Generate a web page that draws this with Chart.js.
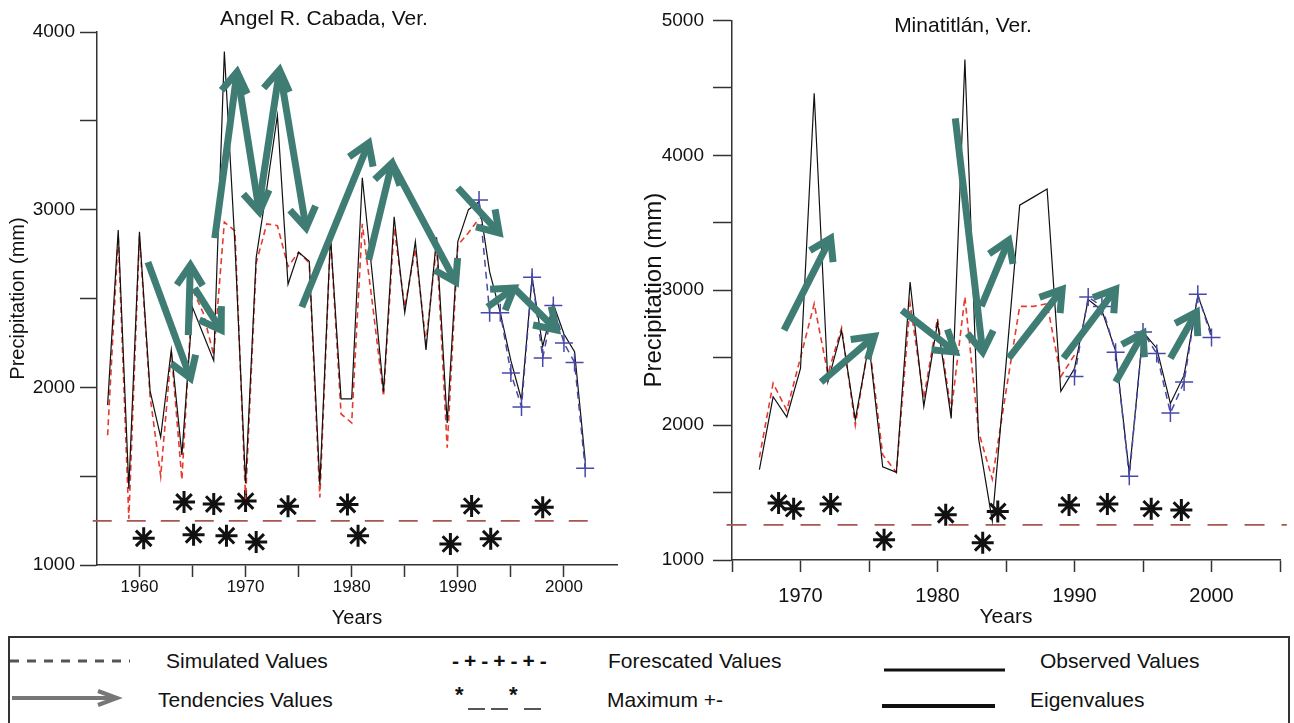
<!DOCTYPE html>
<html lang="en">
<head>
<meta charset="UTF-8">
<title>Precipitation tendencies</title>
<script src="https://cdn.jsdelivr.net/npm/chart.js"></script>
<style>
  body { margin: 0; background: #fff; font-family: "Liberation Sans", Arial, sans-serif; }
  #page { position: relative; width: 1294px; height: 723px; overflow: hidden; background: #fff; }
  .plot { position: absolute; top: 0; }
  .title { position: absolute; font-size: 21px; line-height: 1; color: #111; white-space: nowrap; transform: translateX(-50%); }
  #legendBox { position: absolute; left: 8px; top: 636px; width: 1282px; height: 100px; border: 2px solid #333; box-sizing: border-box; }
  .lg { position: absolute; font-size: 21px; line-height: 1; color: #111; white-space: nowrap; }
  .mark { position: absolute; font-weight: bold; color: #111; white-space: nowrap; line-height: 1; }
</style>
</head>
<body>
<div id="page">
  <canvas id="leftChart" class="plot" style="left:0" width="640" height="630"></canvas>
  <canvas id="rightChart" class="plot" style="left:640px" width="654" height="630"></canvas>

  <div class="title" style="left:324px; top:7px">Angel R. Cabada, Ver.</div>
  <div class="title" style="left:963px; top:14px">Minatitlán, Ver.</div>

  <div id="legendBox"></div>
  <svg style="position:absolute; left:0; top:630px" width="1294" height="93">
    <line x1="10" y1="31" x2="130" y2="31" stroke="#555" stroke-width="3" stroke-dasharray="9 8"/>
    <line x1="884" y1="40" x2="1005" y2="40" stroke="#111" stroke-width="3"/>
    <line x1="12" y1="68" x2="114" y2="68" stroke="#777" stroke-width="4"/>
    <polyline points="98,61 117,68 98,75" fill="none" stroke="#777" stroke-width="4"/>
    <line x1="882" y1="76" x2="995" y2="76" stroke="#111" stroke-width="4"/>
    <line x1="468" y1="79" x2="485" y2="79" stroke="#555" stroke-width="2"/>
    <line x1="491" y1="79" x2="508" y2="79" stroke="#555" stroke-width="2"/>
    <line x1="524" y1="79" x2="541" y2="79" stroke="#555" stroke-width="2"/>
  </svg>
  <div class="lg" style="left:166px; top:650px">Simulated Values</div>
  <div class="mark" style="left:452px; top:650px; font-size:21px; letter-spacing:5px">-+-+-+-</div>
  <div class="lg" style="left:608px; top:650px">Forescated Values</div>
  <div class="lg" style="left:1040px; top:650px">Observed Values</div>
  <div class="lg" style="left:158px; top:689px">Tendencies Values</div>
  <div class="mark" style="left:455px; top:684px; font-size:22px">*</div>
  <div class="mark" style="left:509px; top:684px; font-size:22px">*</div>
  <div class="lg" style="left:607px; top:689px">Maximum +-</div>
  <div class="lg" style="left:1030px; top:689px">Eigenvalues</div>
</div>

<script>
// ---- Angel R. Cabada, Ver. ----
const leftYears = [1957, 1958, 1959, 1960, 1961, 1962, 1963, 1964, 1965, 1966, 1967, 1968, 1969, 1970, 1971, 1972,
  1973, 1974, 1975, 1976, 1977, 1978, 1979, 1980, 1981, 1982, 1983, 1984, 1985, 1986, 1987, 1988, 1989, 1990,
  1991, 1992, 1993, 1994, 1995, 1996, 1997, 1998, 1999, 2000, 2001, 2002];
const leftObserved = [1900, 2885, 1430, 2875, 1980, 1720, 2210, 1620, 2450, 2300, 2150, 3890, 2800, 1460, 2730, 3120,
  3530, 2580, 2760, 2710, 1450, 2850, 1935, 1935, 3180, 2600, 1975, 2960, 2420, 2820, 2210, 2845, 1800, 2820,
  3000, 3045, 2650, 2420, 2150, 1930, 2620, 2230, 2470, 2300, 2200, 1590];
// simulated runs 1957-1992
const leftSimulated = [1730, 2850, 1260, 2850, 1950, 1500, 2200, 1480, 2550, 2420, 2180, 2930, 2880, 1370, 2700, 2920,
  2910, 2680, 2760, 2700, 1380, 2850, 1850, 1800, 2920, 2450, 1950, 2900, 2450, 2780, 2250, 2800, 1660, 2800,
  2870, 2950];
const leftForecastYears = [1992, 1993, 1994, 1995, 1996, 1997, 1998, 1999, 2000, 2001, 2002];
const leftForecast = [3054, 2420, 2420, 2080, 1890, 2620, 2165, 2460, 2250, 2140, 1545];
const leftMaxYears = [1960.4, 1964.2, 1965.1, 1967.0, 1968.2, 1970.0, 1971.0, 1974.0, 1979.6, 1980.6, 1989.3, 1991.3, 1993.1, 1998.0];
const leftMaxValues = [1150, 1355, 1170, 1343, 1165, 1360, 1130, 1330, 1340, 1165, 1118, 1332, 1148, 1325];
const leftThreshold = 1248;
// tendencies: [x0, y0, x1, y1], head at the second point
const leftArrows = [
  [1960.8, 2705, 1964.8, 2052],
  [1964.6, 2294, 1964.8, 2688],
  [1965.2, 2559, 1967.7, 2322],
  [1967.1, 2840, 1969.2, 3775],
  [1969.2, 3775, 1971.3, 2987],
  [1971.2, 2998, 1973.2, 3786],
  [1973.3, 3758, 1975.7, 2897],
  [1975.3, 2452, 1981.6, 3375],
  [1981.6, 2717, 1983.8, 3263],
  [1983.8, 3263, 1989.8, 2593],
  [1990.0, 3122, 1993.9, 2869],
  [1992.8, 2452, 1995.3, 2559],
  [1995.3, 2559, 1999.3, 2323]
];
const leftTickYears = [1960, 1965, 1970, 1975, 1980, 1985, 1990, 1995, 2000];

// ---- Minatitlán, Ver. ----
const rightYears = [1967, 1968, 1969, 1970, 1971, 1972, 1973, 1974, 1975, 1976, 1977, 1978, 1979, 1980, 1981, 1982,
  1983, 1984, 1985, 1986, 1987, 1988, 1989, 1990, 1991, 1992, 1993, 1994, 1995, 1996, 1997, 1998, 1999, 2000];
const rightObserved = [1670, 2210, 2060, 2420, 4460, 2320, 2700, 2040, 2600, 1690, 1650, 3060, 2140, 2760, 2050, 4710,
  1900, 1290, 2450, 3630, 3690, 3750, 2250, 2420, 2930, 2850, 2550, 1640, 2690, 2570, 2160, 2370, 2960, 2680];
// simulated runs 1967-1990
const rightSimulated = [1760, 2310, 2110, 2500, 2900, 2380, 2720, 2000, 2620, 1780, 1650, 2900, 2200, 2790, 2100, 2950,
  1950, 1600, 2250, 2880, 2880, 2900, 2360, 2520];
const rightForecastYears = [1990, 1991, 1992, 1993, 1994, 1995, 1996, 1997, 1998, 1999, 2000];
const rightForecast = [2360, 2950, 2880, 2540, 1620, 2690, 2530, 2090, 2320, 2970, 2650];
const rightMaxYears = [1968.4, 1969.5, 1972.2, 1976.1, 1980.6, 1983.3, 1984.4, 1989.6, 1992.4, 1995.6, 1997.8];
const rightMaxValues = [1423, 1380, 1415, 1150, 1335, 1127, 1360, 1408, 1415, 1380, 1370];
const rightThreshold = 1260;
const rightArrows = [
  [1968.8, 2704, 1972.2, 3385],
  [1971.5, 2319, 1975.4, 2659],
  [1977.4, 2852, 1981.3, 2541],
  [1981.3, 4274, 1983.3, 2541],
  [1983.2, 2881, 1985.2, 3370],
  [1985.2, 2496, 1989.1, 3007],
  [1989.2, 2496, 1993.0, 3007],
  [1993.0, 2319, 1995.0, 2681],
  [1997.0, 2496, 1998.9, 2837]
];
const rightTickYears = [1965, 1970, 1975, 1980, 1985, 1990, 1995, 2000, 2005];

const teal = '#3f7c74';
const axisColor = '#333';

Chart.defaults.font.family = '"Liberation Sans", Arial, sans-serif';
Chart.defaults.color = '#111';

const arrowHeads = {
  id: 'arrowHeads',
  afterDatasetsDraw(chart) {
    const ctx = chart.ctx;
    chart.data.datasets.forEach((ds, i) => {
      if (!ds.arrow) return;
      const pts = chart.getDatasetMeta(i).data;
      const a = pts[0], b = pts[1];
      const ang = Math.atan2(b.y - a.y, b.x - a.x);
      const len = 24, spread = Math.PI / 5.5;
      ctx.save();
      ctx.strokeStyle = ds.borderColor;
      ctx.lineWidth = ds.borderWidth;
      ctx.lineJoin = 'miter';
      ctx.beginPath();
      ctx.moveTo(b.x - len * Math.cos(ang - spread), b.y - len * Math.sin(ang - spread));
      ctx.lineTo(b.x, b.y);
      ctx.lineTo(b.x - len * Math.cos(ang + spread), b.y - len * Math.sin(ang + spread));
      ctx.stroke();
      ctx.restore();
    });
  }
};

function pairs(xs, ys) {
  return ys.map((v, i) => ({ x: xs[i], y: v }));
}

function buildDatasets(p) {
  const sets = [];
  p.arrows.forEach(a => sets.push({
    data: [{ x: a[0], y: a[1] }, { x: a[2], y: a[3] }],
    borderColor: teal, borderWidth: 7, pointRadius: 0, arrow: true, order: 0, clip: false
  }));
  sets.push({
    label: 'Forescated Values', data: pairs(p.fYears, p.forecast),
    borderColor: '#4848a8', borderWidth: 1.5, borderDash: [7, 5],
    pointStyle: 'cross', pointRadius: 9, pointBorderWidth: 1.5, pointBorderColor: '#4848a8', order: 1
  });
  sets.push({
    label: 'Observed Values', data: pairs(p.years, p.observed),
    borderColor: '#111', borderWidth: 1.2, pointRadius: 0, order: 2
  });
  sets.push({
    label: 'Simulated Values', data: pairs(p.years, p.simulated),
    borderColor: '#e8392e', borderWidth: 1.6, borderDash: [6, 4], pointRadius: 0, order: 3
  });
  sets.push({
    label: 'Maximum +-', data: pairs(p.maxYears, p.maxValues), showLine: false,
    pointStyle: 'star', pointRadius: 11, pointBorderWidth: 3, pointBorderColor: '#111', order: 4
  });
  sets.push({
    label: 'Eigenvalues', data: [{ x: p.lineFrom, y: p.threshold }, { x: p.lineTo, y: p.threshold }],
    borderColor: '#a8564f', borderWidth: 1.8, borderDash: p.dash, pointRadius: 0, order: 5, clip: false
  });
  return sets;
}

function makeChart(id, p) {
  return new Chart(document.getElementById(id), {
    type: 'line',
    data: { datasets: buildDatasets(p) },
    plugins: [arrowHeads],
    options: {
      responsive: false,
      animation: false,
      events: [],
      layout: { padding: p.padding },
      plugins: { legend: { display: false }, tooltip: { enabled: false } },
      scales: {
        x: {
          type: 'linear', min: p.xMin, max: p.xMax,
          border: { color: axisColor, width: 1.5 },
          grid: { drawOnChartArea: false, tickLength: p.xTickLen, color: axisColor, tickWidth: 1.5 },
          ticks: { autoSkip: false, maxRotation: 0, padding: p.xTickPad, font: { size: p.xFont },
            callback: v => (v % 10 === 0 ? String(v) : '') },
          afterBuildTicks: s => { s.ticks = p.tickYears.map(v => ({ value: v })); },
          title: { display: true, text: 'Years', font: { size: p.titleFont }, padding: { top: 0, bottom: 0 } },
          afterFit: s => { s.height = p.xHeight; }
        },
        y: {
          type: 'linear', min: 1000, max: p.yMax,
          border: { color: axisColor, width: 1.5 },
          grid: { drawOnChartArea: false, tickLength: p.yTickLen, color: axisColor, tickWidth: 1.5 },
          ticks: { autoSkip: false, stepSize: 500, padding: p.yTickPad, font: { size: p.yFont },
            callback: v => (v % 1000 === 0 ? String(v) : '') },
          title: { display: true, text: 'Precipitation (mm)', font: { size: p.yTitleFont }, padding: { top: p.yTitlePad } },
          afterFit: s => { s.width = p.yWidth; }
        }
      }
    }
  });
}

makeChart('leftChart', {
  years: leftYears, observed: leftObserved, simulated: leftSimulated,
  fYears: leftForecastYears, forecast: leftForecast,
  maxYears: leftMaxYears, maxValues: leftMaxValues,
  threshold: leftThreshold, lineFrom: 1955.6, lineTo: 2002.8, dash: [19, 15],
  arrows: leftArrows, tickYears: leftTickYears,
  xMin: 1956, xMax: 2005, yMax: 4000,
  padding: { left: 0, right: 23, top: 32, bottom: 0 },
  xHeight: 65, yWidth: 97,
  xTickLen: 12, xTickPad: 0, xFont: 17,
  yTickLen: 17, yTickPad: 5, yFont: 19,
  titleFont: 20, yTitleFont: 20, yTitlePad: 6
});

makeChart('rightChart', {
  years: rightYears, observed: rightObserved, simulated: rightSimulated,
  fYears: rightForecastYears, forecast: rightForecast,
  maxYears: rightMaxYears, maxValues: rightMaxValues,
  threshold: rightThreshold, lineFrom: 1964.6, lineTo: 2005.5, dash: [20, 17],
  arrows: rightArrows, tickYears: rightTickYears,
  xMin: 1965, xMax: 2005, yMax: 5000,
  padding: { left: 0, right: 11, top: 20, bottom: 0 },
  xHeight: 70, yWidth: 92,
  xTickLen: 12, xTickPad: 12, xFont: 20,
  yTickLen: 19, yTickPad: 9, yFont: 19,
  titleFont: 21, yTitleFont: 24, yTitlePad: 0
});
</script>
</body>
</html>
